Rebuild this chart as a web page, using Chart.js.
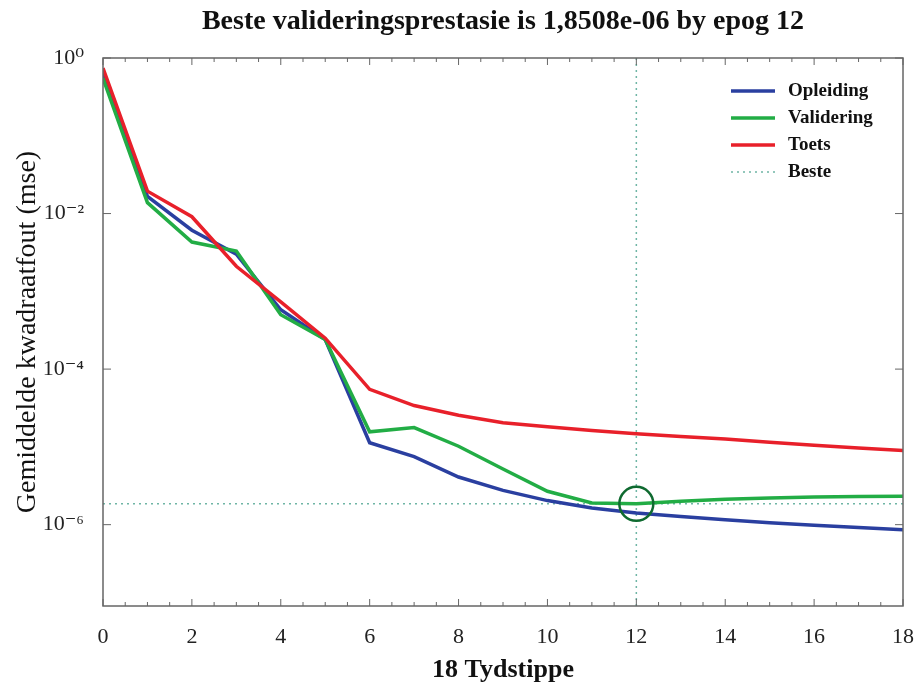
<!DOCTYPE html>
<html lang="af">
<head>
    <meta charset="UTF-8">
    <title>Beste valideringsprestasie</title>
    <script src="https://cdn.jsdelivr.net/npm/chart.js"></script>
    <style>
        html, body { margin: 0; padding: 0; background: white; }
        .wrap { width: 916px; height: 688px; }
    </style>
</head>
<body>
<div class="wrap"><canvas id="perfChart" width="916" height="688"></canvas></div>
<script>
    // data
    const epogs = [0, 1, 2, 3, 4, 5, 6, 7, 8, 9, 10, 11, 12, 13, 14, 15, 16, 17, 18];
    const opleiding = [0.64, 0.0166, 0.0061, 0.0030, 5.8e-4, 2.4e-4, 1.13e-5, 7.5e-6, 4.1e-6, 2.76e-6, 2.04e-6, 1.64e-6, 1.41e-6, 1.27e-6, 1.16e-6, 1.06e-6, 0.98e-6, 0.92e-6, 0.86e-6];
    const validering = [0.55, 0.0138, 0.0043, 0.0033, 5.0e-4, 2.4e-4, 1.56e-5, 1.77e-5, 1.02e-5, 5.2e-6, 2.69e-6, 1.9e-6, 1.8508e-6, 2.0e-6, 2.12e-6, 2.2e-6, 2.27e-6, 2.3e-6, 2.32e-6];
    const toets = [0.74, 0.0194, 0.0091, 0.0021, 7.3e-4, 2.5e-4, 5.5e-5, 3.4e-5, 2.55e-5, 2.05e-5, 1.82e-5, 1.63e-5, 1.48e-5, 1.36e-5, 1.26e-5, 1.15e-5, 1.05e-5, 9.7e-6, 9.0e-6];
    const besteEpog = 12;
    const bestePrestasie = 1.8508e-6;
    const yTickValues = [1, 1e-2, 1e-4, 1e-6];
    const yTickLabels = ["10\u2070", "10\u207B\u00B2", "10\u207B\u2074", "10\u207B\u2076"];
    const yMin = 9e-8, yMax = 1;

    const serif = "'Liberation Serif', 'DejaVu Serif', serif";

    function pts(ys) {
        return epogs.map((x, i) => ({ x: x, y: ys[i] }));
    }

    // box round the plot with inward ticks, like the original
    const framePlugin = {
        id: "frame",
        afterDatasetsDraw(chart) {
            const { ctx, chartArea: a, scales } = chart;
            const xs = scales.x, ys = scales.y;
            ctx.save();
            ctx.strokeStyle = "#666";
            ctx.lineWidth = 1.5;
            ctx.strokeRect(a.left, a.top, a.right - a.left, a.bottom - a.top);
            ctx.lineWidth = 1;
            ctx.beginPath();
            for (let v = 0; v <= 18.001; v += 0.5) {
                const px = xs.getPixelForValue(v);
                const len = (v % 2 === 0) ? 7 : 4;
                ctx.moveTo(px, a.bottom); ctx.lineTo(px, a.bottom - len);
                ctx.moveTo(px, a.top); ctx.lineTo(px, a.top + len);
            }
            yTickValues.forEach(v => {
                const py = ys.getPixelForValue(v);
                ctx.moveTo(a.left, py); ctx.lineTo(a.left + 8, py);
                ctx.moveTo(a.right, py); ctx.lineTo(a.right - 8, py);
            });
            ctx.stroke();
            ctx.restore();
        }
    };

    // legend inside the top right corner
    const legendPlugin = {
        id: "binneLegende",
        afterDraw(chart) {
            const { ctx, chartArea: a } = chart;
            const items = chart.data.datasets.filter(d => d.inLegende);
            ctx.save();
            ctx.font = "bold 19px " + serif;
            ctx.textBaseline = "middle";
            ctx.fillStyle = "#111";
            const rowY = [33, 60, 87, 114];
            items.forEach((d, i) => {
                const y = a.top + rowY[i];
                ctx.beginPath();
                ctx.strokeStyle = d.borderColor;
                ctx.lineWidth = d.borderDash ? 1.5 : 3.5;
                ctx.setLineDash(d.borderDash || []);
                ctx.moveTo(a.right - 172, y);
                ctx.lineTo(a.right - 128, y);
                ctx.stroke();
                ctx.setLineDash([]);
                ctx.fillText(d.label, a.right - 115, y);
            });
            ctx.restore();
        }
    };

    const ctx = document.getElementById("perfChart").getContext("2d");
    new Chart(ctx, {
        type: "line",
        data: {
            datasets: [
                {
                    label: "Opleiding",
                    data: pts(opleiding),
                    borderColor: "#2a3fa0",
                    borderWidth: 3.5,
                    pointRadius: 0,
                    order: 3,
                    inLegende: true
                },
                {
                    label: "Validering",
                    data: pts(validering),
                    borderColor: "#22ad45",
                    borderWidth: 3.5,
                    pointRadius: 0,
                    order: 2,
                    inLegende: true
                },
                {
                    label: "Toets",
                    data: pts(toets),
                    borderColor: "#e8202a",
                    borderWidth: 3.5,
                    pointRadius: 0,
                    order: 1,
                    inLegende: true
                },
                {
                    label: "Beste",
                    data: [{ x: 0, y: bestePrestasie }, { x: 18, y: bestePrestasie }],
                    borderColor: "#6fb5a5",
                    borderWidth: 1.5,
                    borderDash: [2, 4],
                    pointRadius: 0,
                    order: 5,
                    inLegende: true
                },
                {
                    label: "Beste epog",
                    data: [{ x: besteEpog, y: yMin }, { x: besteEpog, y: yMax }],
                    borderColor: "#6fb5a5",
                    borderWidth: 1.5,
                    borderDash: [2, 4],
                    pointRadius: 0,
                    order: 5
                },
                {
                    label: "Beste punt",
                    data: [{ x: besteEpog, y: bestePrestasie }],
                    showLine: false,
                    pointRadius: 17,
                    pointStyle: "circle",
                    pointBorderColor: "#0f6a30",
                    pointBackgroundColor: "rgba(0,0,0,0)",
                    pointBorderWidth: 2.5,
                    order: 0
                }
            ]
        },
        options: {
            responsive: false,
            animation: false,
            events: [],
            layout: { autoPadding: false, padding: { left: 0, right: 13, top: 0, bottom: 0 } },
            plugins: {
                legend: { display: false },
                tooltip: { enabled: false },
                title: {
                    display: true,
                    fullSize: false,
                    text: "Beste valideringsprestasie is 1,8508e-06 by epog 12",
                    color: "#111",
                    font: { family: serif, size: 28, weight: "bold" },
                    padding: { top: 5, bottom: 19.4 }
                }
            },
            scales: {
                x: {
                    type: "linear",
                    min: 0,
                    max: 18,
                    grid: { display: false },
                    border: { display: false },
                    ticks: {
                        stepSize: 2,
                        color: "#222",
                        padding: 10,
                        maxRotation: 0,
                        font: { family: serif, size: 22 }
                    },
                    title: {
                        display: true,
                        text: "18 Tydstippe",
                        color: "#111",
                        font: { family: serif, size: 26, weight: "bold" },
                        padding: { top: 0, bottom: 2 }
                    },
                    afterFit(scale) {
                        scale.height = 82;
                        scale.paddingLeft = 0;
                        scale.paddingRight = 0;
                    }
                },
                y: {
                    type: "logarithmic",
                    min: yMin,
                    max: yMax,
                    grid: { display: false },
                    border: { display: false },
                    afterBuildTicks(scale) {
                        scale.ticks = yTickValues.map(v => ({ value: v }));
                    },
                    ticks: {
                        color: "#222",
                        padding: 11,
                        font: { family: serif, size: 22 },
                        callback: function (value) {
                            const i = yTickValues.findIndex(v => Math.abs(Math.log10(v) - Math.log10(value)) < 1e-6);
                            return i >= 0 ? yTickLabels[i] : "";
                        }
                    },
                    title: {
                        display: true,
                        text: "Gemiddelde kwadraatfout (mse)",
                        color: "#111",
                        font: { family: serif, size: 28 },
                        padding: { top: 11, bottom: 0 }
                    },
                    afterFit(scale) {
                        scale.width = 103;
                        scale.paddingTop = 0;
                        scale.paddingBottom = 0;
                    }
                }
            }
        },
        plugins: [framePlugin, legendPlugin]
    });
</script>
</body>
</html>
